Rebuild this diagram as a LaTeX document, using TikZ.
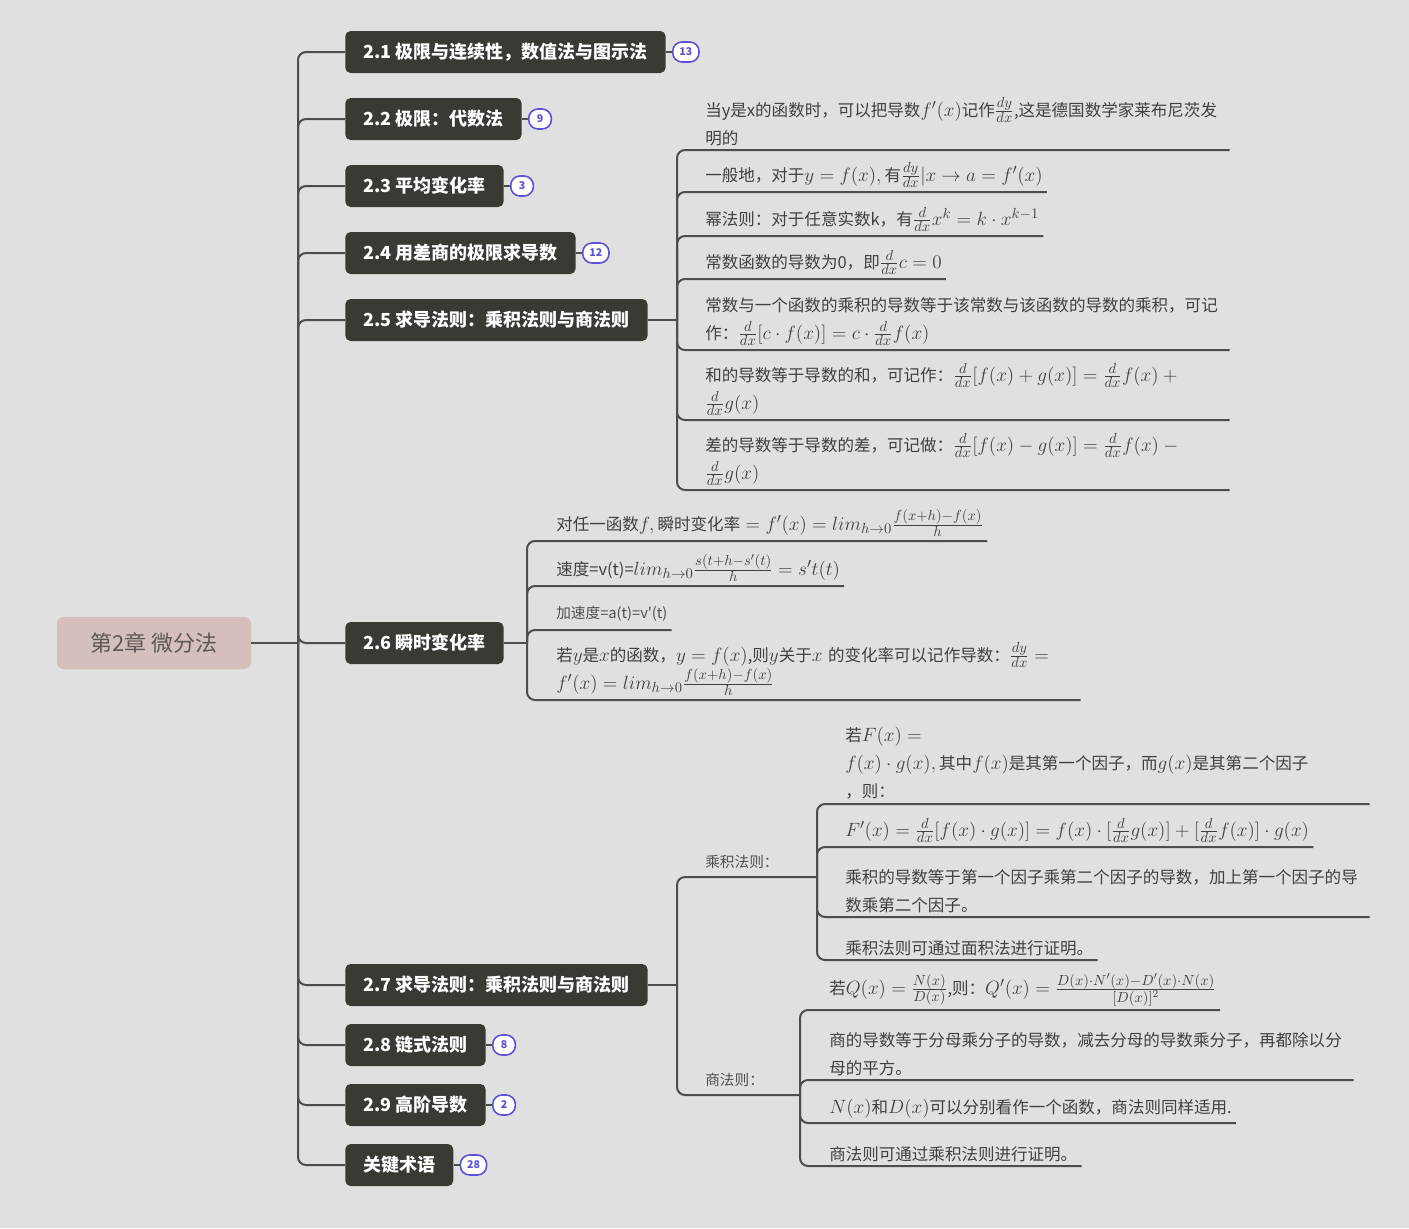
\documentclass[tikz,border=0pt]{standalone}
\usepackage{amsmath}
\usepackage[no-math]{fontspec}
\usepackage{xcolor}
\usepackage{tikz}
\usetikzlibrary{positioning}
\setmainfont{Noto Sans CJK SC}
\XeTeXlinebreaklocale "zh"
\XeTeXlinebreakskip = 0pt plus 1pt
\DeclareMathSizes{12.4}{15}{10.5}{8}

\begin{document}
\begin{tikzpicture}[
    x=0.75pt, y=-0.75pt,
    link/.style={
        draw=linkgray,
        line width=1.5pt,
        rounded corners=6pt
    },
    rootbox/.style={
        rectangle,
        rounded corners=5pt,
        fill=rootpink,
        text=roottext,
        minimum width=145.5pt,
        minimum height=39pt,
        font=\fontsize{16.5}{18}\selectfont
    },
    branch/.style={
        rectangle,
        rounded corners=4pt,
        fill=boxdark,
        text=white,
        anchor=west,
        minimum height=31.5pt,
        inner xsep=13.5pt,
        font=\fontsize{13.5}{15}\selectfont\bfseries
    },
    badge/.style={
        rectangle,
        rounded corners=7pt,
        draw=badgeblue,
        fill=white,
        line width=1.2pt,
        text=badgeblue,
        minimum height=15pt,
        minimum width=17pt,
        inner xsep=5pt,
        inner ysep=0pt,
        font=\fontsize{8}{9}\selectfont\bfseries
    },
    leaf/.style={
        anchor=south west,
        inner xsep=3pt,
        inner ysep=3pt,
        text=leaftext,
        align=left,
        font=\fontsize{12.4}{21}\selectfont
    },
    leafwide/.style={leaf, text width=390pt},
    leafsmall/.style={leaf, inner ysep=6pt, text=labeltext, font=\fontsize{11}{14}\selectfont}
]

\definecolor{bggray}{HTML}{E0E0E0}
\definecolor{linkgray}{HTML}{4D4D4D}
\definecolor{rootpink}{HTML}{D5BFBC}
\definecolor{roottext}{HTML}{5E5856}
\definecolor{boxdark}{HTML}{3A3A34}
\definecolor{badgeblue}{HTML}{5B52D6}
\definecolor{leaftext}{HTML}{404040}
\definecolor{labeltext}{HTML}{505050}

% Canvas
\fill[bggray] (0,0) rectangle (1409,1228);

% Root and main branches
\node[rootbox] (root) at (154,643) {第2章 微分法};
\coordinate (hub) at (298,643);

\node[branch] (b21) at (345,52) {2.1 极限与连续性，数值法与图示法};
\node[branch] (b22) at (345,119) {2.2 极限：代数法};
\node[branch] (b23) at (345,186) {2.3 平均变化率};
\node[branch] (b24) at (345,253) {2.4 用差商的极限求导数};
\node[branch] (b25) at (345,320) {2.5 求导法则：乘积法则与商法则};
\node[branch] (b26) at (345,643) {2.6 瞬时变化率};
\node[branch] (b27) at (345,985) {2.7 求导法则：乘积法则与商法则};
\node[branch] (b28) at (345,1045) {2.8 链式法则};
\node[branch] (b29) at (345,1105) {2.9 高阶导数};
\node[branch] (b210) at (345,1165) {关键术语};

% Counters of folded topics
\node[badge, right=4.5pt of b21] (n21) {13};
\node[badge, right=4.5pt of b22] (n22) {9};
\node[badge, right=4.5pt of b23] (n23) {3};
\node[badge, right=4.5pt of b24] (n24) {12};
\node[badge, right=4.5pt of b28] (n28) {8};
\node[badge, right=4.5pt of b29] (n29) {2};
\node[badge, right=4.5pt of b210] (n210) {28};

% Leaves of 2.5
\coordinate (s25) at (677,320);
\node[leafwide] (l251) at (701,150) {当y是x的函数时，可以把导数$f'(x)$记作$\frac{dy}{dx}$,这是德国数学家莱布尼茨发\\明的};
\node[leaf] (l252) at (701,192) {一般地，对于$y=f(x),\text{有}\frac{dy}{dx}|x\rightarrow a=f'(x)$};
\node[leaf] (l253) at (701,236) {幂法则：对于任意实数k，有$\frac{d}{dx}x^k=k\cdot x^{k-1}$};
\node[leaf] (l254) at (701,279) {常数函数的导数为0，即$\frac{d}{dx}c=0$};
\node[leafwide] (l255) at (701,350) {常数与一个函数的乘积的导数等于该常数与该函数的导数的乘积，可记\\作：$\frac{d}{dx}[c\cdot f(x)]=c\cdot\frac{d}{dx}f(x)$};
\node[leafwide] (l256) at (701,420) {和的导数等于导数的和，可记作：$\frac{d}{dx}[f(x)+g(x)]=\frac{d}{dx}f(x)+{}$\\$\frac{d}{dx}g(x)$};
\node[leafwide] (l257) at (701,490) {差的导数等于导数的差，可记做：$\frac{d}{dx}[f(x)-g(x)]=\frac{d}{dx}f(x)-{}$\\$\frac{d}{dx}g(x)$};

% Leaves of 2.6
\coordinate (s26) at (527,643);
\node[leaf] (l261) at (552,541) {对任一函数${f,\text{瞬时变化率}=f'(x)=lim_{h\rightarrow0}\frac{f(x+h)-f(x)}{h}}$};
\node[leaf] (l262) at (552,586) {速度=v(t)=$lim_{h\rightarrow0}\frac{s(t+h-s'(t)}{h}=s't(t)$};
\node[leafsmall] (l263) at (552,630) {加速度=a(t)=v\textquotesingle(t)};
\node[leafwide] (l264) at (552,700) {若$y$是$x$的函数，$y=f(x)$,则$y$关于$x$ 的变化率可以记作导数：$\frac{dy}{dx}={}$\\$f'(x)=lim_{h\rightarrow0}\frac{f(x+h)-f(x)}{h}$};

% Leaves of 2.7
\coordinate (s27) at (677,985);
\node[leafsmall] (pl) at (701,877) {乘积法则：};
\node[leafsmall] (ql) at (701,1095) {商法则：};
\coordinate (sp) at (817,877);
\coordinate (sq) at (800,1095);

\node[leafwide] (pa) at (841,804) {若$F(x)=$\\${f(x)\cdot g(x),\text{其中}f(x)\text{是其第一个因子，而}g(x)\text{是其第二个因子}}$\\，则：};
\node[leaf] (pb) at (841,847) {$F'(x)=\frac{d}{dx}[f(x)\cdot g(x)]=f(x)\cdot[\frac{d}{dx}g(x)]+[\frac{d}{dx}f(x)]\cdot g(x)$};
\node[leafwide] (pc) at (841,917) {乘积的导数等于第一个因子乘第二个因子的导数，加上第一个因子的导\\数乘第二个因子。};
\node[leaf] (pd) at (841,960) {乘积法则可通过面积法进行证明。};

\node[leaf] (qa) at (825,1010) {若$Q(x)=\frac{N(x)}{D(x)}$,则：$Q'(x)=\frac{D(x)\cdot N'(x)-D'(x)\cdot N(x)}{[D(x)]^2}$};
\node[leafwide] (qb) at (825,1080) {商的导数等于分母乘分子的导数，减去分母的导数乘分子，再都除以分\\母的平方。};
\node[leaf] (qc) at (825,1123) {$N(x)$和$D(x)$可以分别看作一个函数，商法则同样适用.};
\node[leaf] (qd) at (825,1166) {商法则可通过乘积法则进行证明。};

% Connectors
\draw[link] (root.east) -- (hub);
\foreach \b in {b21,b22,b23,b24,b25,b26,b27,b28,b29,b210}
    \draw[link] (hub) |- (\b.west);
\foreach \b/\n in {b21/n21,b22/n22,b23/n23,b24/n24,b28/n28,b29/n29,b210/n210}
    \draw[link] (\b.east) -- (\n.west);

\draw[link] (b25.east) -- (s25);
\foreach \n in {l251,l252,l253,l254,l255,l256,l257}
    \draw[link] (s25) |- (\n.south east);

\draw[link] (b26.east) -- (s26);
\foreach \n in {l261,l262,l263,l264}
    \draw[link] (s26) |- (\n.south east);

\draw[link] (b27.east) -- (s27);
\draw[link] (s27) |- (pl.south west) -- (sp);
\draw[link] (s27) |- (ql.south west) -- (sq);
\foreach \n in {pa,pb,pc,pd}
    \draw[link] (sp) |- (\n.south east);
\foreach \n in {qa,qb,qc,qd}
    \draw[link] (sq) |- (\n.south east);

\end{tikzpicture}
\end{document}
